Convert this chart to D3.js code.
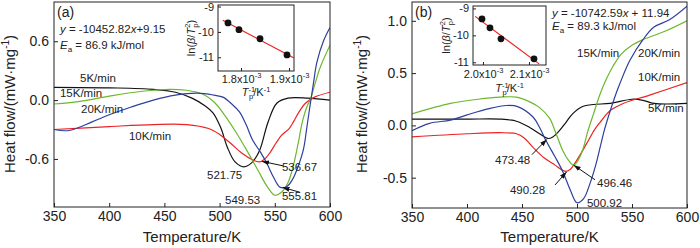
<!DOCTYPE html>
<html>
<head>
<meta charset="utf-8">
<script src="https://cdn.jsdelivr.net/npm/d3@7"></script>
<style>
body { margin: 0; background: #fff; }
text { font-family: "Liberation Sans", Arial, sans-serif; fill: #222; }
</style>
</head>
<body>
<script>
const width = 700;
const height = 248;

const tempTicks = [350, 400, 450, 500, 550, 600];
const rates = ['5K/min', '10K/min', '15K/min', '20K/min'];
const colors = ['#111111', '#ee2222', '#6cb82c', '#2e3f9e'];

// panel (a) curves
const aT5  = [350, 400, 440, 460, 475, 487, 494, 501, 507, 514, 522, 529, 536, 544, 552, 562, 580, 600];
const aV5  = [0.13, 0.125, 0.11, 0.08, 0.02, -0.06, -0.13, -0.28, -0.48, -0.63, -0.68, -0.64, -0.52, -0.22, -0.03, 0.02, 0.02, 0.0];
const aT10 = [350, 400, 440, 470, 490, 500, 510, 520, 530, 536, 541, 546, 551, 556, 563, 567, 572, 578, 586, 600];
const aV10 = [-0.30, -0.27, -0.25, -0.25, -0.29, -0.35, -0.44, -0.54, -0.61, -0.63, -0.60, -0.53, -0.44, -0.36, -0.29, -0.22, -0.12, -0.03, 0.03, 0.08];
const aT15 = [350, 375, 400, 430, 455, 470, 485, 495, 505, 515, 525, 535, 543, 550, 556, 562, 567, 571, 575, 579, 582, 586, 591, 600];
const aV15 = [-0.04, -0.01, 0.04, 0.09, 0.11, 0.10, 0.06, -0.02, -0.16, -0.33, -0.52, -0.72, -0.88, -0.97, -0.94, -0.84, -0.66, -0.45, -0.22, -0.07, 0.0, 0.15, 0.33, 0.56];
const aT20 = [350, 364, 385, 400, 420, 440, 460, 480, 495, 503, 511, 518, 524, 530, 537, 543, 549, 555, 561, 566, 571, 576, 579, 582, 585, 588, 594, 600];
const aV20 = [-0.30, -0.31, -0.22, -0.15, -0.07, 0.0, 0.05, 0.07, 0.05, 0.03, -0.04, -0.12, -0.25, -0.41, -0.53, -0.65, -0.79, -0.89, -0.88, -0.81, -0.68, -0.50, -0.28, -0.05, 0.17, 0.38, 0.60, 0.74];

// panel (b) curves
const bT5  = [350, 400, 430, 445, 457, 466, 473.5, 478, 484, 490, 496, 505, 515, 530, 550, 560, 570, 600];
const bV5  = [0.06, 0.06, 0.06, 0.04, -0.02, -0.08, -0.125, -0.11, -0.05, 0.03, 0.11, 0.18, 0.20, 0.21, 0.25, 0.24, 0.21, 0.21];
const bT10 = [350, 400, 430, 445, 452, 460, 470, 480, 487, 490, 494, 500, 509, 516, 521, 530, 542, 566, 600];
const bV10 = [-0.11, -0.08, -0.07, -0.08, -0.12, -0.21, -0.31, -0.38, -0.43, -0.44, -0.42, -0.33, -0.17, -0.04, 0.03, 0.14, 0.21, 0.29, 0.41];
const bT15 = [350, 385, 410, 430, 445, 458, 466, 475, 481, 487, 492, 496.5, 500, 505, 510, 515, 521, 527, 533, 540, 549, 560, 580, 600];
const bV15 = [0.11, 0.21, 0.25, 0.27, 0.27, 0.22, 0.17, 0.07, -0.08, -0.24, -0.33, -0.38, -0.35, -0.24, -0.05, 0.11, 0.30, 0.45, 0.57, 0.68, 0.76, 0.82, 0.90, 1.0];
const bT20 = [350, 366, 385, 400, 420, 436, 446, 460, 466, 472, 480, 487, 494, 500, 506, 512, 517, 521, 525, 529, 534, 539, 548, 560, 570, 584, 600];
const bV20 = [-0.05, 0.02, 0.05, 0.10, 0.16, 0.19, 0.18, 0.08, -0.02, -0.15, -0.30, -0.44, -0.62, -0.74, -0.70, -0.55, -0.38, -0.21, -0.04, 0.10, 0.26, 0.40, 0.62, 0.82, 0.94, 1.01, 1.14];

// peak temperatures (K) and Kissinger insets
const aPeaks = ['521.75', '536.67', '549.53', '555.81'];
const bPeaks = ['473.48', '490.28', '496.46', '500.92'];
const aInvT = [1.7729e-3, 1.7958e-3, 1.8396e-3, 1.8958e-3];
const aLnB  = [-9.646, -9.911, -10.269, -10.906];
const bInvT = [1.9978e-3, 2.0152e-3, 2.0391e-3, 2.1109e-3];
const bLnB  = [-9.39, -9.72, -10.13, -10.87];
const aInsetTicksX = [1.8e-3, 1.9e-3];
const bInsetTicksX = [2.0e-3, 2.1e-3];
const insetTicksY = [-9, -10, -11];

const svg = d3.select('body').append('svg').attr('width', width).attr('height', height);

const defs = svg.append('defs');
defs.append('marker').attr('id', 'arr')
    .attr('viewBox', '0 0 10 10').attr('refX', 10).attr('refY', 5)
    .attr('markerWidth', 7).attr('markerHeight', 7).attr('orient', 'auto')
    .append('path').attr('d', 'M0,1.5L10,5L0,8.5Z').attr('fill', '#111');

function drawPanel(p) {
    const x = d3.scaleLinear().domain([350, 600]).range([p.left, p.right]);
    const y = d3.scaleLinear().domain(p.yDomain).range([p.bottom, p.top]);
    const g = svg.append('g');

    g.append('g')
        .attr('transform', `translate(0,${p.bottom})`)
        .call(d3.axisBottom(x).tickValues(tempTicks).tickSizeInner(-4).tickSizeOuter(0).tickPadding(4))
        .call(s => s.select('.domain').remove())
        .call(s => s.selectAll('text').attr('font-size', 14).style('font-family', '"Liberation Sans", Arial, sans-serif'));
    g.append('g')
        .attr('transform', `translate(${p.left},0)`)
        .call(d3.axisLeft(y).tickValues(p.yTicks).tickFormat(d => d.toFixed(1)).tickSizeInner(-4).tickSizeOuter(0).tickPadding(5))
        .call(s => s.select('.domain').remove())
        .call(s => s.selectAll('text').attr('font-size', 14).style('font-family', '"Liberation Sans", Arial, sans-serif'));
    g.selectAll('.tick line').attr('stroke', '#222');

    const clipId = 'clip' + p.name;
    defs.append('clipPath').attr('id', clipId).append('rect')
        .attr('x', p.left).attr('y', p.top).attr('width', p.right - p.left).attr('height', p.bottom - p.top);

    const line = d3.line().x(d => x(d[0])).y(d => y(d[1])).curve(d3.curveCatmullRom.alpha(0.5));
    const curves = g.append('g').attr('clip-path', `url(#${clipId})`);
    p.series.forEach((s, i) => {
        curves.append('path')
            .datum(d3.zip(s[0], s[1]))
            .attr('fill', 'none')
            .attr('stroke', colors[i])
            .attr('stroke-width', 1.2)
            .attr('d', line);
    });

    g.append('rect')
        .attr('x', p.left).attr('y', p.top)
        .attr('width', p.right - p.left).attr('height', p.bottom - p.top)
        .attr('fill', 'none').attr('stroke', '#222').attr('stroke-width', 1);

    // rate labels
    p.rateLabels.forEach((l, i) => {
        g.append('text').attr('x', x(l[0])).attr('y', y(l[1])).attr('font-size', 11.5).text(rates[i]);
    });
    // peak labels
    p.peakLabels.forEach((l, i) => {
        g.append('text').attr('x', x(l[0])).attr('y', y(l[1])).attr('font-size', 11.5).text(p.peaks[i]);
    });
    p.arrows.forEach(a => {
        g.append('line')
            .attr('x1', x(a[0])).attr('y1', y(a[1])).attr('x2', x(a[2])).attr('y2', y(a[3]))
            .attr('stroke', '#111').attr('stroke-width', 1).attr('marker-end', 'url(#arr)');
    });

    g.append('text').attr('x', p.left + 3).attr('y', p.top + 15).attr('font-size', 14).text(p.tag);

    // equation
    const eq = g.append('text').attr('x', p.eqX).attr('y', p.eqY).attr('font-size', 11.5);
    eq.append('tspan').attr('font-style', 'italic').text('y');
    eq.append('tspan').text(p.eqMid);
    eq.append('tspan').attr('font-style', 'italic').text('x');
    eq.append('tspan').text(p.eqEnd);
    const ea = g.append('text').attr('x', p.eqX).attr('y', p.eqY + p.eqGap).attr('font-size', 11.5);
    ea.append('tspan').attr('font-style', 'italic').text('E');
    ea.append('tspan').attr('font-size', 8).attr('dy', 3).text('a');
    ea.append('tspan').attr('dy', -3).text(p.ea);

    // axis titles
    g.append('text').attr('x', (p.left + p.right) / 2).attr('y', 242)
        .attr('text-anchor', 'middle').attr('font-size', 15).text('Temperature/K');
    const yt = g.append('text')
        .attr('transform', `translate(${p.titleX},104) rotate(-90)`)
        .attr('text-anchor', 'middle').attr('font-size', 15);
    yt.append('tspan').text('Heat flow/(mW\u00b7mg');
    yt.append('tspan').attr('font-size', 10).attr('dy', -6).text('-1');
    yt.append('tspan').attr('dy', 6).text(')');

    drawInset(p.inset);
}

function drawInset(q) {
    const x = d3.scaleLinear().domain(q.xDomain).range([q.left, q.right]);
    const y = d3.scaleLinear().domain(q.yDomain).range([q.bottom, q.top]);
    const g = svg.append('g');
    g.append('rect').attr('x', q.left).attr('y', q.top)
        .attr('width', q.right - q.left).attr('height', q.bottom - q.top)
        .attr('fill', '#fff').attr('stroke', '#222').attr('stroke-width', 1);

    const xa = g.append('g').attr('transform', `translate(0,${q.bottom})`)
        .call(d3.axisBottom(x).tickValues(q.xTicks).tickSizeInner(-3).tickSizeOuter(0).tickPadding(3).tickFormat(''));
    xa.select('.domain').remove();
    xa.selectAll('.tick').append('text')
        .attr('text-anchor', 'middle').attr('y', q.tickY).attr('font-size', 11).attr('fill', '#222')
        .each(function(d) {
            const t = d3.select(this);
            t.append('tspan').text((d * 1000).toFixed(1) + 'x10');
            t.append('tspan').attr('font-size', 7.5).attr('dy', -5).text('-3');
        });
    const ya = g.append('g').attr('transform', `translate(${q.left},0)`)
        .call(d3.axisLeft(y).tickValues(insetTicksY).tickFormat(d => String(d)).tickSizeInner(-3).tickSizeOuter(0).tickPadding(4));
    ya.select('.domain').remove();
    ya.selectAll('text').attr('font-size', 11).style('font-family', '"Liberation Sans", Arial, sans-serif');
    g.selectAll('.tick line').attr('stroke', '#222');

    // least squares fit line
    const mx = d3.mean(q.xs), my = d3.mean(q.ys);
    const slope = d3.sum(q.xs, (v, i) => (v - mx) * (q.ys[i] - my)) / d3.sum(q.xs, v => (v - mx) * (v - mx));
    const fy = v => my + slope * (v - mx);
    g.append('line')
        .attr('x1', x(q.fitRange[0])).attr('y1', y(fy(q.fitRange[0])))
        .attr('x2', x(q.fitRange[1])).attr('y2', y(fy(q.fitRange[1])))
        .attr('stroke', '#ee2222').attr('stroke-width', 1.2);

    g.selectAll('circle').data(d3.zip(q.xs, q.ys)).enter().append('circle')
        .attr('cx', d => x(d[0])).attr('cy', d => y(d[1])).attr('r', 3.4).attr('fill', '#111');

    // inset titles
    const yl = g.append('text')
        .attr('transform', `translate(${q.left - 23},${(q.top + q.bottom) / 2}) rotate(-90)`)
        .attr('text-anchor', 'middle').attr('font-size', 11);
    yl.append('tspan').text('ln(');
    yl.append('tspan').attr('font-style', 'italic').text('\u03b2');
    yl.append('tspan').text('/');
    yl.append('tspan').attr('font-style', 'italic').text('T');
    yl.append('tspan').attr('font-size', 7.5).attr('dy', -5).text('2');
    yl.append('tspan').attr('font-size', 7.5).attr('dx', -4).attr('dy', 8).text('p');
    yl.append('tspan').attr('dy', -3).text(')');

    const xl = g.append('text')
        .attr('x', (q.left + q.right) / 2).attr('y', q.bottom + q.titleY)
        .attr('text-anchor', 'middle').attr('font-size', 11);
    xl.append('tspan').attr('font-style', 'italic').text('T');
    xl.append('tspan').attr('font-size', 7.5).attr('dy', -4).text('-1');
    xl.append('tspan').attr('font-size', 7.5).attr('dx', -6).attr('dy', 7).text('p');
    xl.append('tspan').attr('dy', -3).text('/K');
    xl.append('tspan').attr('font-size', 7.5).attr('dy', -4).text('-1');
}

drawPanel({
    name: 'a', tag: '(a)',
    left: 54, right: 330, top: 2, bottom: 207,
    yDomain: [-1.09, 1.0], yTicks: [0.6, 0.0, -0.6],
    series: [[aT5, aV5], [aT10, aV10], [aT15, aV15], [aT20, aV20]],
    rateLabels: [[373.6, 0.183], [417.9, -0.407], [355.4, 0.031], [374.5, -0.132]],
    peaks: aPeaks,
    peakLabels: [[488.6, -0.804], [556.5, -0.722], [504.9, -1.058], [556.5, -1.017]],
    arrows: [[557.4, -0.67, 538.4, -0.625], [572.8, -0.94, 557, -0.89]],
    eqX: 60, eqY: 33, eqGap: 16,
    eqMid: ' = -10452.82', eqEnd: '+9.15', ea: ' = 86.9 kJ/mol',
    titleX: 15,
    inset: {
        left: 218, right: 294, top: 5, bottom: 71,
        xDomain: [1.7521e-3, 1.9104e-3], yDomain: [-11.54, -8.94],
        xTicks: aInsetTicksX, xs: aInvT, ys: aLnB,
        fitRange: [1.762e-3, 1.9104e-3],
        tickY: 12, titleY: 25
    }
});

drawPanel({
    name: 'b', tag: '(b)',
    left: 412, right: 687, top: 2, bottom: 208,
    yDomain: [-0.79, 1.18], yTicks: [1.0, 0.5, 0.0, -0.5],
    series: [[bT5, bV5], [bT10, bV10], [bT15, bV15], [bT20, bV20]],
    rateLabels: [[564.5, 0.125], [555.5, 0.423], [500, 0.654], [555.5, 0.654]],
    peaks: bPeaks,
    peakLabels: [[425.5, -0.365], [439, -0.654], [518.2, -0.587], [509, -0.779]],
    arrows: [[459, -0.28, 472.5, -0.135], [480, -0.57, 490.5, -0.445], [516.4, -0.52, 497, -0.38]],
    eqX: 552, eqY: 17, eqGap: 13,
    eqMid: ' = -10742.59', eqEnd: ' + 11.94', ea: ' = 89.3 kJ/mol',
    titleX: 367,
    inset: {
        left: 473, right: 546, top: 6, bottom: 65,
        xDomain: [1.9783e-3, 2.137e-3], yDomain: [-11.10, -8.91],
        xTicks: bInsetTicksX, xs: bInvT, ys: bLnB,
        fitRange: [1.983e-3, 2.122e-3],
        tickY: 13, titleY: 27
    }
});
</script>
</body>
</html>
